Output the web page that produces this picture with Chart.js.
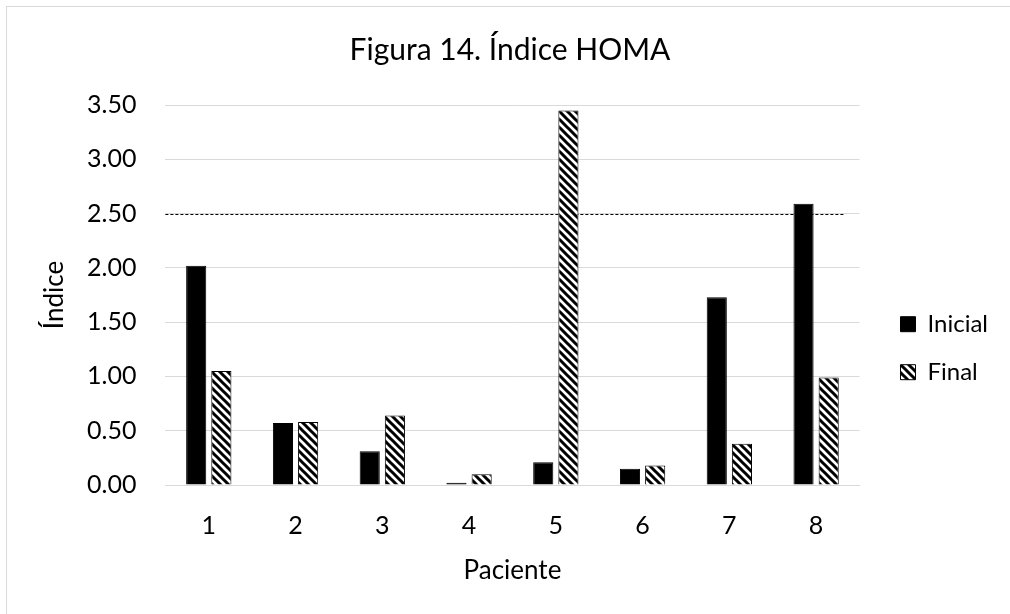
<!DOCTYPE html>
<html>
<head>
<meta charset="utf-8">
<script src="https://cdn.jsdelivr.net/npm/chart.js@4/dist/chart.umd.min.js"></script>
<style>
  html, body { margin: 0; padding: 0; background: #fff; overflow: hidden; }
  #frame { position: absolute; left: 6px; top: 6px; width: 1100px; height: 700px; border: 1px solid #d9d9d9; }
  #wrap { position: absolute; left: 0; top: 0; width: 1010px; height: 614px; }
</style>
</head>
<body>
<div id="frame"></div>
<div id="wrap"><canvas id="c" width="1010" height="614"></canvas></div>
<script>
const categories = ['1', '2', '3', '4', '5', '6', '7', '8'];
const inicial = [2.02, 0.57, 0.31, 0.02, 0.21, 0.15, 1.73, 2.59];
const finalVals = [1.05, 0.58, 0.64, 0.10, 3.45, 0.18, 0.38, 0.99];
const thresholdValue = 2.5;
const thresholdX = [-0.5, 7.32];   // extent of the threshold line, in category-index units
const yTicks = [0, 0.5, 1, 1.5, 2, 2.5, 3, 3.5];

function makeHatch() {
  const s = 8;
  const c = document.createElement('canvas');
  c.width = s; c.height = s;
  const g = c.getContext('2d');
  g.fillStyle = '#ffffff';
  g.fillRect(0, 0, s, s);
  g.strokeStyle = '#000000';
  g.lineWidth = 3;
  g.beginPath();
  g.moveTo(-2, -2); g.lineTo(s + 2, s + 2);
  g.moveTo(-2, s - 2); g.lineTo(2, s + 2);
  g.moveTo(s - 2, -2); g.lineTo(s + 2, 2);
  g.stroke();
  return g.createPattern(c, 'repeat');
}
const hatch = makeHatch();

const thresholdPlugin = {
  id: 'threshold',
  beforeDatasetsDraw(chart) {
    const { ctx, scales: { x, y } } = chart;
    const py = Math.round(y.getPixelForValue(thresholdValue)) + 0.5;
    const x0 = x.getPixelForValue(thresholdX[0]);
    const x1 = x.getPixelForValue(thresholdX[1]);
    ctx.save();
    ctx.strokeStyle = '#000000';
    ctx.lineWidth = 1;
    ctx.setLineDash([3, 2]);
    ctx.beginPath();
    ctx.moveTo(x0, py);
    ctx.lineTo(x1, py);
    ctx.stroke();
    ctx.restore();
  }
};

const FONT = 'Lato, "Open Sans", sans-serif';

new Chart(document.getElementById('c'), {
  type: 'bar',
  data: {
    labels: categories,
    datasets: [
      {
        label: 'Inicial', data: inicial,
        backgroundColor: '#000000', borderColor: '#000000', borderWidth: 1
      },
      {
        label: 'Final', data: finalVals,
        backgroundColor: hatch, borderColor: '#000000', borderWidth: 1
      }
    ]
  },
  plugins: [thresholdPlugin],
  options: {
    responsive: false,
    animation: false,
    categoryPercentage: 0.58,
    barPercentage: 0.8,
    layout: { padding: { left: 22, right: 12, top: 20, bottom: 30 } },
    plugins: {
      title: {
        display: true, text: 'Figura 14. Índice HOMA', color: '#000',
        font: { family: FONT, size: 30, weight: 'normal' },
        padding: { top: 12, bottom: 37 }
      },
      legend: {
        position: 'right',
        title: { display: true, text: '', padding: 39 },
        labels: {
          color: '#000', boxWidth: 15, boxHeight: 15, padding: 24,
          font: { family: FONT, size: 24 }
        }
      },
      tooltip: { enabled: false }
    },
    scales: {
      x: {
        type: 'category',
        grid: { display: false, drawTicks: false },
        border: { color: '#d9d9d9' },
        ticks: { color: '#000', font: { family: FONT, size: 25 }, padding: 26 },
        title: { display: true, text: 'Paciente', color: '#000', font: { family: FONT, size: 26, lineHeight: 1 }, padding: { top: -9, bottom: 0 } }
      },
      y: {
        min: 0, max: 3.5,
        afterBuildTicks: axis => { axis.ticks = yTicks.map(v => ({ value: v })); },
        grid: { color: '#d9d9d9', lineWidth: 1, drawTicks: false },
        border: { display: false },
        ticks: { color: '#000', font: { family: FONT, size: 25 }, padding: 29, callback: v => Number(v).toFixed(2) },
        title: { display: true, text: 'Índice', color: '#000', font: { family: FONT, size: 26, lineHeight: 1 }, padding: { top: 20, bottom: -10 } }
      },
      yr: {
        type: 'linear', position: 'right', display: true,
        grid: { display: false, drawTicks: false },
        border: { display: false },
        ticks: { display: false },
        afterFit: s => { s.width = 17; }
      }
    }
  }
});
</script>
</body>
</html>
